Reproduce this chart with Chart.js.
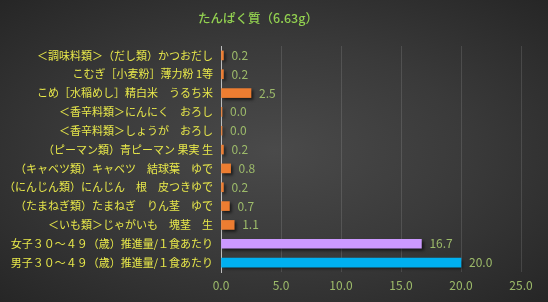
<!DOCTYPE html>
<html>
<head>
<meta charset="utf-8">
<script src="https://cdn.jsdelivr.net/npm/chart.js@4"></script>
<style>
  html, body { margin: 0; padding: 0; background: #2a2a2a; }
  #wrap { width: 548px; height: 302px; background: radial-gradient(ellipse at 50% 50%, #4a4a4a 0%, #3a3a3a 50%, #262626 100%); }
</style>
</head>
<body>
<div id="wrap"><canvas id="myChart" width="548" height="302"></canvas></div>
<script>
// jshint esversion:6
var chartTitle = "たんぱく質（6.63g）";

var foodLabels = [
    "＜調味料類＞（だし類）かつおだし",
    "こむぎ［小麦粉］薄力粉 1等",
    "こめ［水稲めし］精白米　うるち米",
    "＜香辛料類＞にんにく　おろし",
    "＜香辛料類＞しょうが　おろし",
    "（ピーマン類）青ピーマン 果実 生",
    "（キャベツ類）キャベツ　結球葉　ゆで",
    "（にんじん類）にんじん　根　皮つきゆで",
    "（たまねぎ類）たまねぎ　りん茎　ゆで",
    "＜いも類＞じゃがいも　塊茎　生",
    "女子３０～４９（歳）推進量/１食あたり",
    "男子３０～４９（歳）推進量/１食あたり"
];
var proteinValues = [0.2, 0.2, 2.5, 0.0, 0.0, 0.2, 0.8, 0.2, 0.7, 1.1, 16.7, 20.0];
var barColors = ["#ED7D31", "#ED7D31", "#ED7D31", "#ED7D31", "#ED7D31", "#ED7D31",
    "#ED7D31", "#ED7D31", "#ED7D31", "#ED7D31", "#CC99FF", "#00B0F0"];
var xTicks = [0, 5, 10, 15, 20, 25];

var font = "'Noto Sans CJK JP', 'Noto Sans', sans-serif";

// title drawn by hand so it can sit a little left of centre
var titlePlugin = {
    id: "titlePlugin",
    afterDraw: (chart) => {
        var ctx = chart.ctx;
        ctx.save();
        ctx.fillStyle = "#92D050";
        ctx.font = "500 12.5px " + font;
        ctx.textAlign = "center";
        ctx.textBaseline = "middle";
        ctx.fillText(chartTitle, 258, 18);
        ctx.restore();
    }
};

// soft drop shadow under the bars
var shadowPlugin = {
    id: "shadowPlugin",
    beforeDatasetsDraw: (chart) => {
        var ctx = chart.ctx;
        ctx.save();
        ctx.shadowColor = "rgba(0,0,0,0.6)";
        ctx.shadowBlur = 3;
        ctx.shadowOffsetX = 2;
        ctx.shadowOffsetY = 2;
    },
    afterDatasetsDraw: (chart) => {
        chart.ctx.restore();
    }
};

// value labels to the right of each bar
var valuePlugin = {
    id: "valuePlugin",
    afterDatasetsDraw: (chart) => {
        var ctx = chart.ctx;
        var meta = chart.getDatasetMeta(0);
        ctx.save();
        ctx.fillStyle = "#9DBB6A";
        ctx.font = "12px " + font;
        ctx.textAlign = "left";
        ctx.textBaseline = "middle";
        meta.data.forEach((bar, i) => {
            var v = chart.data.datasets[0].data[i];
            ctx.fillText(v.toFixed(1), bar.x + 8, bar.y);
        });
        ctx.restore();
    }
};

var chartData = {
    labels: foodLabels,
    datasets: [{
        data: proteinValues,
        backgroundColor: barColors,
        barThickness: 9,
        minBarLength: 1
    }]
};

var graph = new Chart(document.getElementById("myChart"), {
    type: "bar",
    data: chartData,
    plugins: [shadowPlugin, valuePlugin, titlePlugin],
    options: {
        indexAxis: "y",
        responsive: false,
        animation: false,
        layout: {
            padding: { top: 46, left: 4, right: 27, bottom: 6 }
        },
        plugins: {
            legend: { display: false },
            tooltip: { enabled: false }
        },
        scales: {
            x: {
                min: 0,
                max: 25,
                afterBuildTicks: (s) => {
                    s.ticks = xTicks.map((v) => ({ value: v }));
                },
                afterFit: (s) => {
                    s.height = 24;
                },
                ticks: {
                    color: "#9DBB6A",
                    font: { family: font, size: 12 },
                    padding: 6,
                    callback: (v) => Number(v).toFixed(1)
                },
                grid: {
                    color: (c) => c.tick && c.tick.value === 0 ? "rgba(0,0,0,0)" : "rgba(255,255,255,0.12)",
                    drawTicks: false
                },
                border: { display: false }
            },
            y: {
                afterFit: (s) => {
                    s.width = 217;
                },
                ticks: {
                    color: "#E8E84A",
                    font: { family: font, size: 11 },
                    padding: 8,
                    autoSkip: false
                },
                grid: { display: false, drawTicks: false },
                border: { display: true, color: "#BFBFBF", width: 1 }
            }
        }
    }
});
</script>
</body>
</html>
